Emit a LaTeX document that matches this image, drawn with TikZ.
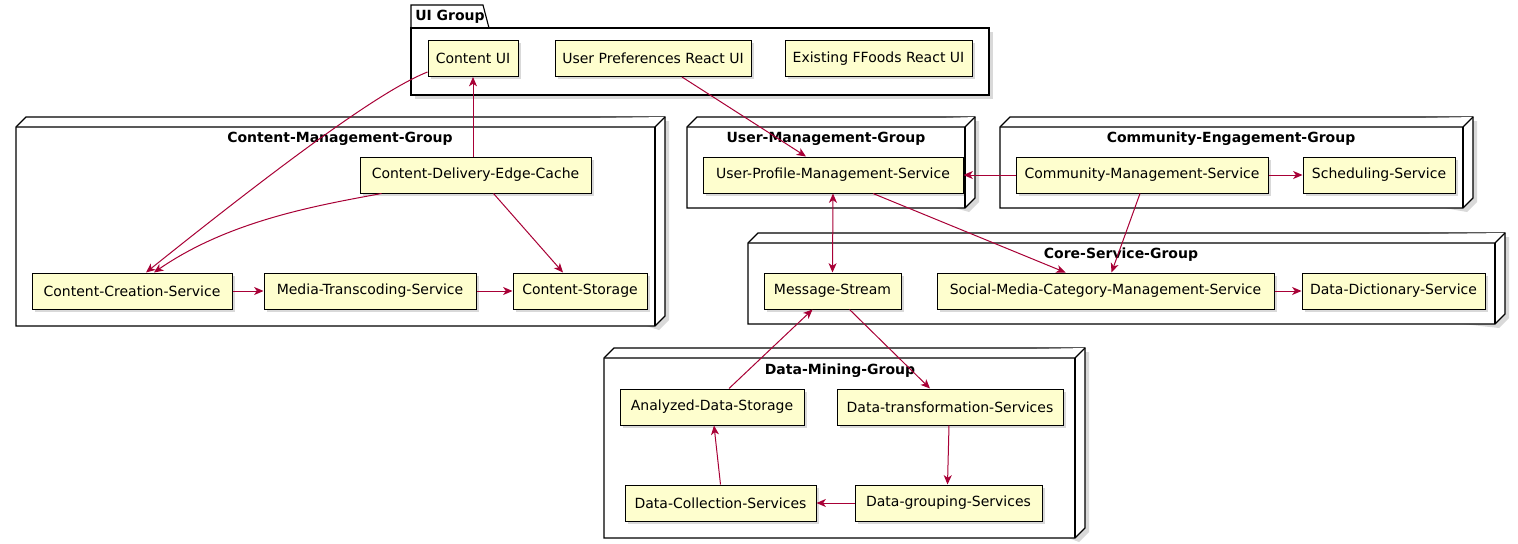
\documentclass[tikz,border=0pt]{standalone}
\usepackage{fontspec}
\setmainfont{DejaVu Sans}
\usetikzlibrary{arrows.meta,shadows,calc}
\definecolor{boxfill}{HTML}{FEFECE}
\definecolor{edgecol}{HTML}{A80036}
\newcommand{\grpbox}[4]{%
  \fill[black,opacity=0.15] (#1+4,#2+4) -- (#1+14,#2-6) -- (#3+14,#2-6) -- (#3+14,#4-6) -- (#3+4,#4+4) -- cycle;
  \draw[grp] (#1,#2) -- (#1+10,#2-10) -- (#3+10,#2-10) -- (#3+10,#4-10) -- (#3,#4) -- (#1,#4) -- cycle;
  \draw[grp] (#1,#2) -- (#3,#2) -- (#3+10,#2-10);
  \draw[grp] (#3,#2) -- (#3,#4);
}
\begin{document}
\begin{tikzpicture}[x=0.75pt,y=-0.75pt,
 svc/.style={draw=black, line width=0.75pt, fill=boxfill, minimum height=27pt, inner sep=0pt,
   font=\fontsize{10.5}{12}\selectfont,
   drop shadow={shadow xshift=2.2pt, shadow yshift=-2.2pt, fill=black, opacity=0.15}},
 grp/.style={draw=black, line width=0.85pt, fill=white, line join=miter},
 gtitle/.style={font=\bfseries\fontsize{10.5}{12}\selectfont, inner sep=0pt},
 link/.style={draw=edgecol, line width=0.75pt, -{Stealth[length=7pt,width=6pt,inset=2pt]}},
 blink/.style={draw=edgecol, line width=0.75pt, {Stealth[length=7pt,width=6pt,inset=2pt]}-{Stealth[length=7pt,width=6pt,inset=2pt]}},
]
\useasboundingbox (0,0) rectangle (1518,543);

% UI Group package
\fill[black,opacity=0.15] (415,32) rectangle (993,99);
\draw[grp] (411,28) -- (411,5) -- (483,5) -- (489,28) -- cycle;
\draw[grp] (411,28) rectangle (989,95);
\node[gtitle, anchor=west] (uititle) at (415,17) {UI Group};

% 3D group boxes
\grpbox{16}{127}{655}{326}
\node[gtitle] (cmgtitle) at (340,139) {Content-Management-Group};
\grpbox{687}{127}{965}{208}
\node[gtitle] (umgtitle) at (826,139) {User-Management-Group};
\grpbox{1000}{127}{1463}{208}
\node[gtitle] (cegtitle) at (1231,139) {Community-Engagement-Group};
\grpbox{748}{243}{1495}{324}
\node[gtitle] (csgtitle) at (1121,255) {Core-Service-Group};
\grpbox{604}{358}{1075}{538}
\node[gtitle] (dmgtitle) at (840,371) {Data-Mining-Group};

% nodes
\node[svc, minimum width=67.5pt] (cui) at (473,58.5) {Content UI};
\node[svc, minimum width=147pt] (uprefs) at (653,58.5) {User Preferences React UI};
\node[svc, minimum width=140.25pt] (exist) at (878.5,58.5) {Existing FFoods React UI};

\node[svc, minimum width=173.25pt] (cdec) at (475.5,175) {Content-Delivery-Edge-Cache};
\node[svc, minimum width=150pt] (ccs) at (132,291) {Content-Creation-Service};
\node[svc, minimum width=159pt] (mts) at (370,291) {Media-Transcoding-Service};
\node[svc, minimum width=100.5pt] (cst) at (580,291) {Content-Storage};

\node[svc, minimum width=195pt] (upms) at (833,175) {User-Profile-Management-Service};
\node[svc, minimum width=189pt] (cms) at (1142,175) {Community-Management-Service};
\node[svc, minimum width=114pt] (sch) at (1379,175) {Scheduling-Service};

\node[svc, minimum width=102.75pt] (ms) at (832.5,291) {Message-Stream};
\node[svc, minimum width=252.75pt] (smc) at (1105.5,291) {Social-Media-Category-Management-Service};
\node[svc, minimum width=137.25pt] (dds) at (1393.5,291) {Data-Dictionary-Service};

\node[svc, minimum width=138pt] (ads) at (712,407) {Analyzed-Data-Storage};
\node[svc, minimum width=169.5pt] (dts) at (950,407) {Data-transformation-Services};
\node[svc, minimum width=143.25pt] (dcs) at (720.5,503) {Data-Collection-Services};
\node[svc, minimum width=140.25pt] (dgs) at (948.5,503) {Data-grouping-Services};

% connectors
\draw[link] ($(cui.south west)+(0,-5)$) .. controls (395,85) and (330,125) .. ($(ccs.north)+(14,0)$);
\draw[link] (cui.south |- cdec.north) -- (cui.south);
\draw[link] ($(cdec.south)+(-94,0)$) .. controls (320,205) and (230,220) .. ($(ccs.north)+(22,0)$);
\draw[link] ($(cdec.south)+(18,0)$) -- ($(cst.north)+(-17,0)$);
\draw[link] (ccs.east) -- (mts.west);
\draw[link] (mts.east) -- (cst.west);

\draw[link] ($(uprefs.south)+(29,0)$) -- ($(upms.north)+(-27,0)$);
\draw[link] (cms.west) -- (upms.east);
\draw[link] (cms.east) -- (sch.west);
\draw[link] ($(cms.south)+(-2,0)$) -- ($(smc.north)+(6,0)$);
\draw[link] ($(upms.south)+(40,0)$) -- ($(smc.north)+(-40,0)$);
\draw[blink] (upms.south) -- (ms.north);
\draw[link] (smc.east) -- (dds.west);

\draw[link] ($(ads.north)+(17,0)$) -- ($(ms.south)+(-20,0)$);
\draw[link] ($(ms.south)+(17,0)$) -- ($(dts.north)+(-20,0)$);
\draw[link] ($(dts.south)+(-1,0)$) -- ($(dgs.north)+(-1,0)$);
\draw[link] (dgs.west) -- (dcs.east);
\draw[link] (dcs.north) -- ($(ads.south)+(2,0)$);
\end{tikzpicture}
\end{document}
